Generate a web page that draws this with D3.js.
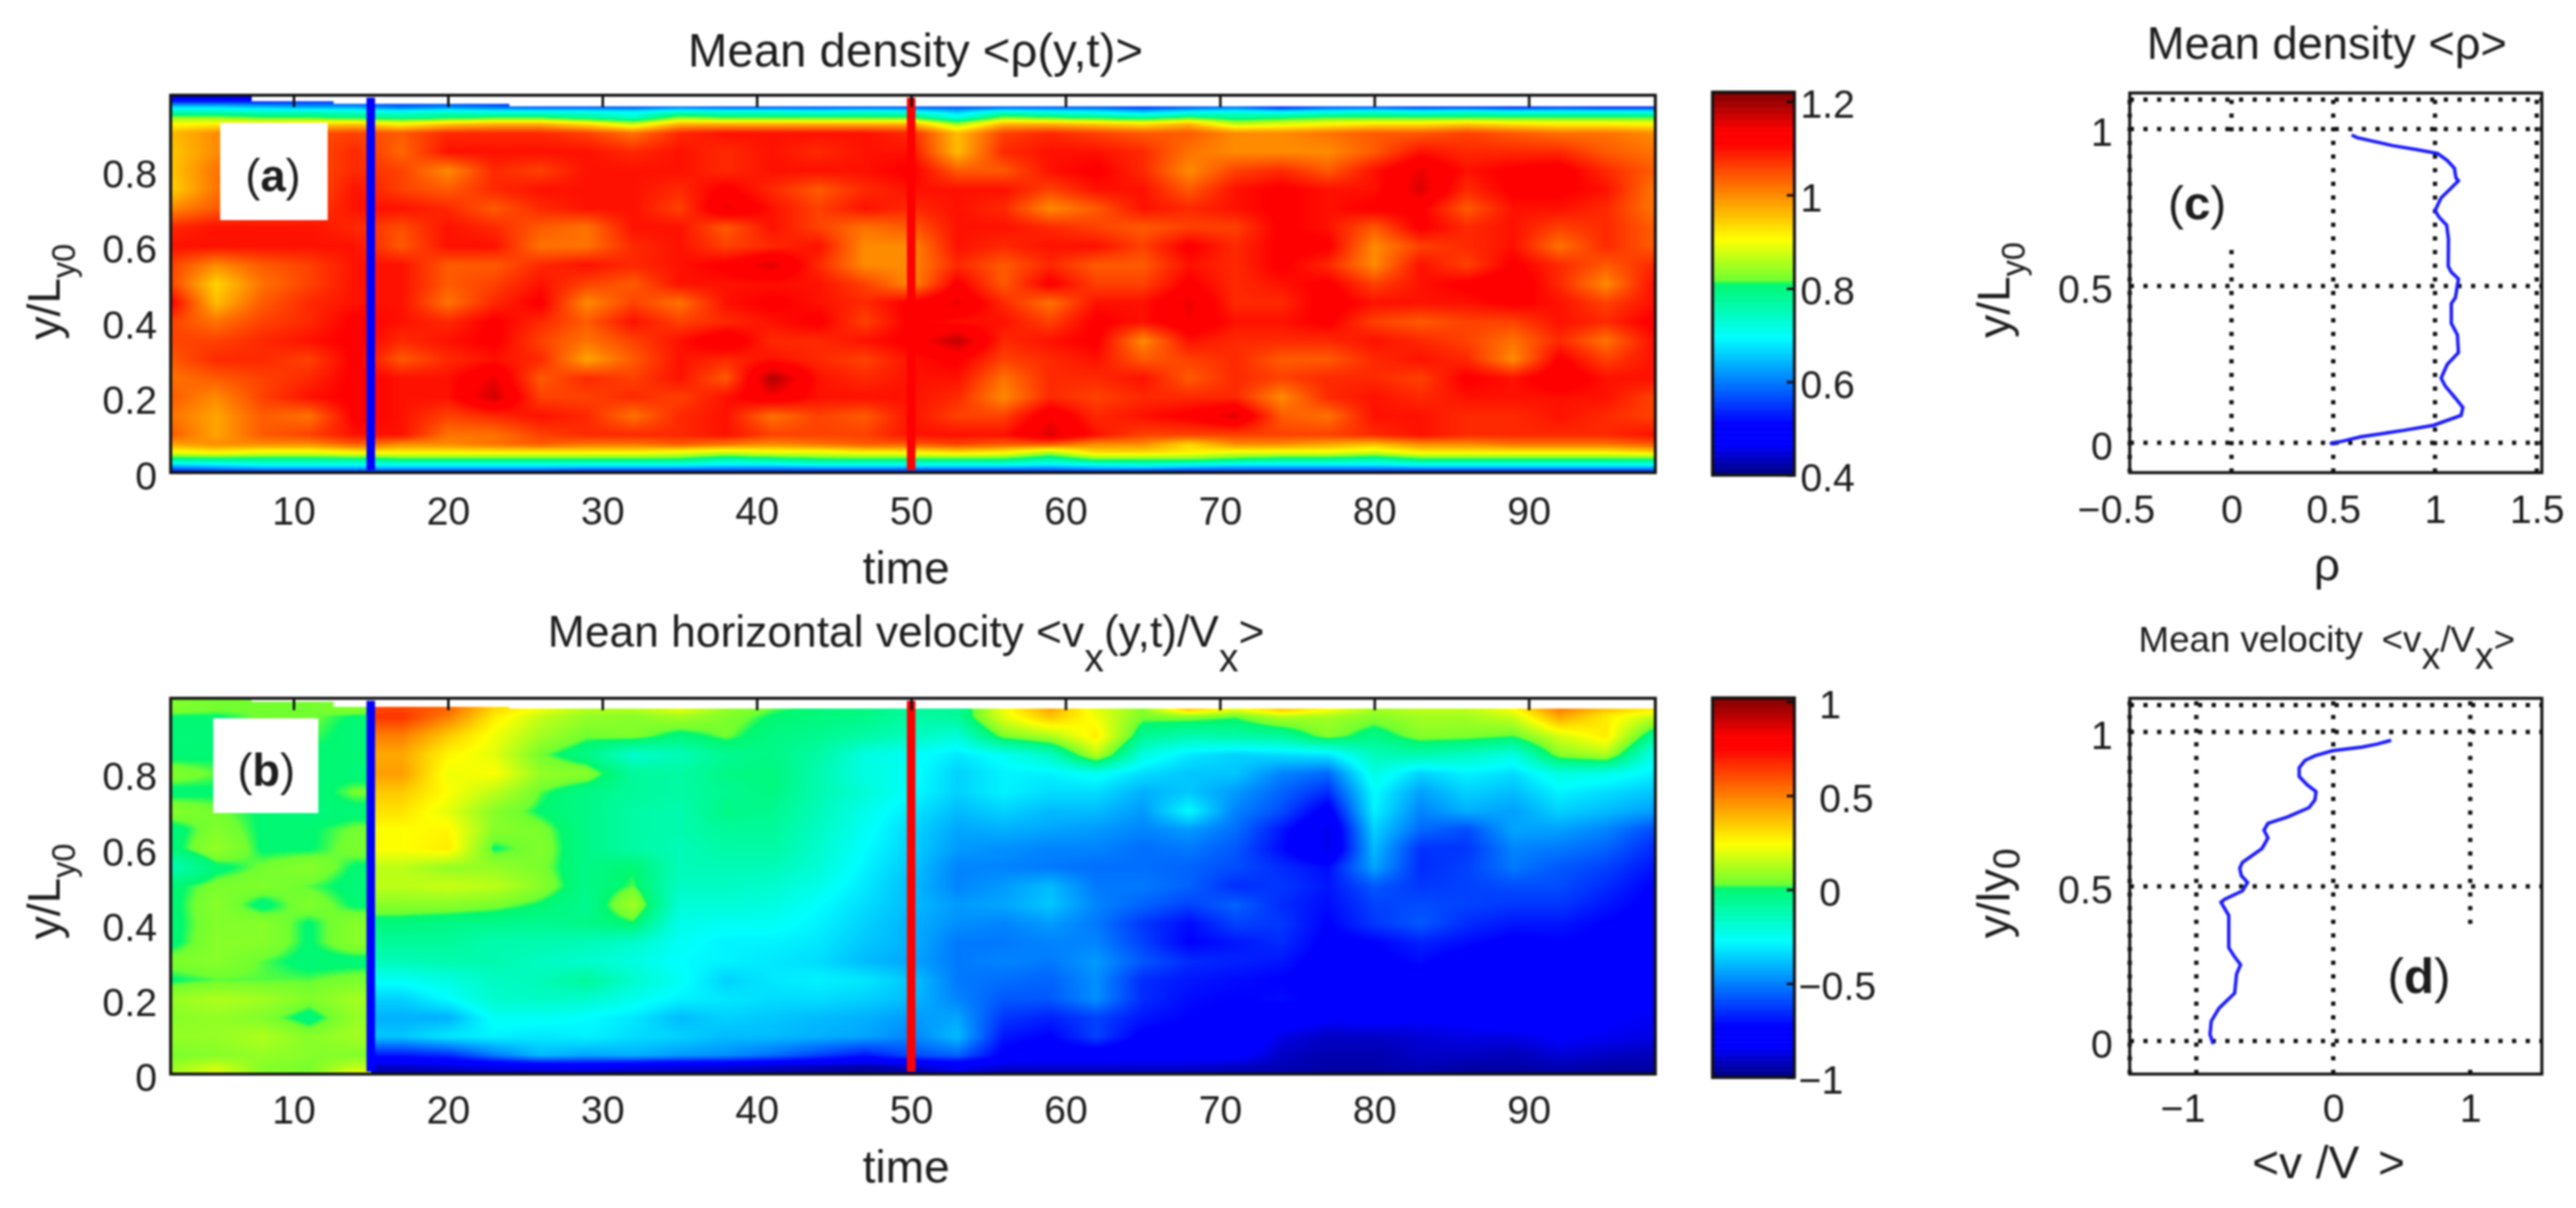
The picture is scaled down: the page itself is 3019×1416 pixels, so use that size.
<!DOCTYPE html>
<html>
<head>
<meta charset="utf-8">
<script src="https://cdn.jsdelivr.net/npm/d3@7"></script>
<style>
  html, body { margin: 0; background: #fff; }
  svg { display: block; filter: blur(0.8px); }
  text { font-family: "Liberation Sans", Arial, sans-serif; fill: #1c1c1c; }
</style>
</head>
<body>
<script>
// time columns of the two heat maps (read every 3 time units)
var timeCols = [2,5,8,11,14, 17,20,23,26,29,32,35,38,41,44,47,50, 53,56,59,62,65,68,71,74,77,80,83,86,89,92,95,98];

// panel (a): y levels top to bottom, then density x100 for each level
var rhoLevels = [1,.985,.97,.955,.94,.925,.9,.85,.8,.75,.7,.65,.6,.55,.5,.45,.4,.35,.3,.25,.2,.15,.1,.075,.055,.035,.02,.01,0];
var rhoRows = [
[48,48,48,52,52, 52,52,52,52,52,52,52,52,52,52,52,52, 52,52,52,52,52,52,52,52,52,52,52,52,52,52,52,52],
[52,52,52,54,54, 56,56,54,52,52,52,52,52,52,52,52,52, 52,52,52,52,52,52,52,52,52,52,52,52,52,52,52,52],
[66,66,64,62,62, 58,60,58,56,56,56,58,56,56,56,56,56, 56,56,56,56,54,56,58,52,56,56,54,54,52,54,52,52],
[76,76,75,75,74, 72,74,72,72,72,70,75,74,74,72,74,72, 66,74,72,70,66,70,72,70,72,74,72,74,72,72,72,72],
[84,84,82,82,80, 78,80,82,82,78,74,84,82,82,82,82,82, 72,84,82,80,78,82,78,80,82,82,82,82,82,82,82,82],
[90,91,92,93,94, 90,94,96,96,92,86,96,96,96,96,96,96, 84,96,96,94,92,96,86,88,90,92,92,94,92,91,91,90],
[96,100,105,105,106, 104,108,108,108,106,102,108,110,110,110,110,108, 96,106,108,106,104,104,100,100,102,104,104,106,104,102,102,100],
[95,100,105,105,108, 103,110,110,110,110,108,110,108,110,108,110,110, 96,108,110,110,108,102,100,100,100,104,110,108,108,108,104,102],
[95,102,105,105,108, 106,100,108,106,110,110,110,108,110,110,110,112, 104,104,110,112,108,100,106,108,104,110,115,110,112,113,108,104],
[94,102,104,104,110, 106,104,108,110,110,110,108,112,108,104,108,110, 110,110,106,110,110,104,110,112,110,110,116,108,112,112,110,102],
[100,104,105,106,110, 110,108,104,108,110,110,106,115,110,106,110,108, 110,108,100,104,110,108,110,112,110,112,112,104,110,110,108,102],
[108,110,110,110,108, 105,110,108,104,102,110,110,104,110,106,102,104, 110,110,108,106,104,106,106,112,110,104,112,108,110,106,108,104],
[110,110,110,110,110, 104,110,110,102,102,108,110,106,108,110,100,100, 110,108,110,110,106,112,108,112,112,100,106,108,110,102,108,104],
[106,100,104,106,110, 110,104,104,108,110,108,110,112,116,108,100,100, 108,104,108,104,104,110,108,112,108,100,110,106,112,108,104,108],
[106,94,102,106,110, 110,104,106,110,106,104,110,110,110,110,106,100, 112,104,112,106,106,112,108,110,112,106,110,112,114,108,100,110],
[112,96,104,108,110, 110,102,108,112,100,106,102,110,112,110,108,112, 115,108,102,110,110,115,108,108,113,110,110,110,112,110,106,110],
[106,102,106,108,112, 110,108,112,108,104,110,106,108,110,112,106,112, 110,110,106,112,110,114,110,110,112,106,104,106,106,110,108,112],
[106,106,108,110,112, 108,110,112,106,102,106,110,114,108,108,110,112, 118,108,110,112,100,110,108,108,108,110,108,106,102,108,102,110],
[104,108,108,106,112, 104,108,110,108,98,104,110,108,110,108,106,110, 112,106,108,110,104,106,108,104,104,108,110,108,100,112,106,110],
[102,104,106,108,112, 110,110,115,104,108,106,110,104,119,110,108,110, 110,102,108,108,110,104,108,106,108,108,106,112,110,114,110,110],
[104,100,106,110,112, 110,110,117,106,106,108,106,110,114,110,110,110, 108,100,108,106,108,108,108,100,108,110,108,110,110,110,110,106],
[102,98,104,102,112, 110,106,108,110,108,102,108,110,102,106,104,110, 106,106,114,108,110,112,116,104,102,110,110,108,108,110,108,106],
[104,98,104,106,110, 110,102,102,106,108,108,108,110,106,106,106,110, 110,110,116,110,106,106,106,106,106,108,110,108,108,108,108,110],
[98,100,100,100,104, 100,100,102,104,102,102,104,102,100,102,104,104, 106,104,104,100,100,94,100,100,98,96,100,100,102,102,102,104],
[90,92,90,90,92, 92,92,92,92,92,92,90,88,90,90,92,92, 94,92,86,94,94,92,90,90,90,88,92,92,92,92,92,94],
[78,78,78,78,78, 80,80,80,80,80,80,80,76,78,80,80,80, 80,80,76,82,82,82,80,78,78,76,80,80,80,80,80,80],
[66,68,70,70,70, 70,70,70,70,70,70,70,68,68,70,70,70, 70,70,68,70,72,70,68,68,68,68,70,70,70,70,70,70],
[58,60,62,62,62, 62,62,62,62,60,60,60,60,60,60,60,60, 60,60,60,62,62,60,60,60,60,60,60,60,60,60,60,60],
[50,52,52,52,52, 52,52,52,52,52,52,52,52,52,52,52,52, 52,52,52,52,52,52,52,52,52,52,52,52,52,52,52,52]
];

// panel (b): y levels top to bottom, then velocity x100 for each level
var velLevels = [1,.97,.95,.9,.85,.8,.75,.7,.65,.6,.55,.5,.45,.4,.35,.3,.25,.2,.15,.1,.05,.02,0];
var velRows = [
[5,3,3,3,5, 62,55,32,22,12,12,20,8,2,-1,-3,-8, -8,22,42,20,6,36,20,36,24,10,14,14,24,50,36,28],
[5,3,3,3,5, 62,55,32,22,12,12,20,8,2,-1,-3,-8, -8,22,42,20,6,36,20,36,24,10,14,14,24,50,36,28],
[0,0,3,3,0, 65,50,28,15,8,6,10,5,0,-2,-4,-10, -8,20,36,22,4,5,2,12,10,6,10,10,16,42,28,15],
[-1,-1,2,2,-1, 50,35,22,10,3,5,-2,3,-3,-6,-10,-15, -20,5,12,28,-6,-12,-10,-8,6,-4,6,5,2,18,28,-6],
[-1,0,-2,0,0, 42,26,20,3,-4,-18,-14,-6,-4,-10,-22,-26, -32,-26,-16,14,-22,-32,-36,-34,-32,-14,-12,-16,-22,6,12,-24],
[5,2,0,0,-1, 44,22,24,8,6,-8,-10,-4,-2,-12,-22,-26, -36,-30,-30,-26,-34,-38,-38,-50,-55,-22,-36,-30,-34,-22,-24,-30],
[-1,0,0,-2,3, 35,24,14,2,-4,-8,-10,-6,-3,-12,-20,-28, -36,-30,-34,-34,-42,-38,-46,-56,-66,-28,-45,-36,-40,-30,-34,-38],
[6,3,0,-2,-1, 30,20,6,0,-4,-10,-12,-4,-6,-14,-24,-32, -40,-36,-40,-40,-46,-28,-50,-60,-78,-30,-50,-42,-45,-36,-40,-45],
[-2,5,0,0,3, 24,26,6,4,-4,-10,-12,-8,-8,-16,-26,-35, -44,-42,-44,-46,-50,-46,-54,-70,-88,-36,-55,-60,-44,-45,-50,-60],
[-2,8,0,0,4, 24,28,0,5,-4,-10,-14,-10,-10,-18,-28,-36, -46,-48,-50,-50,-54,-52,-58,-72,-88,-40,-65,-64,-50,-52,-56,-66],
[-14,-1,3,6,0, 14,8,8,4,-4,0,-14,-14,-14,-20,-30,-38, -50,-50,-52,-54,-54,-56,-60,-66,-72,-44,-66,-62,-52,-58,-62,-70],
[-1,4,5,2,-1, 14,16,14,6,-4,2,-16,-16,-18,-24,-32,-40, -50,-46,-40,-52,-52,-56,-66,-64,-70,-58,-64,-62,-60,-60,-66,-74],
[-1,6,-1,5,0, 6,6,4,0,-6,10,-20,-20,-22,-28,-34,-40, -46,-44,-38,-50,-56,-62,-56,-66,-72,-62,-60,-62,-64,-64,-70,-76],
[-1,5,6,0,6, -2,-4,-5,-6,-4,0,-24,-26,-26,-30,-36,-42, -48,-50,-46,-52,-64,-72,-62,-64,-74,-64,-58,-66,-70,-70,-74,-78],
[-1,6,6,0,6, -8,-8,-12,-12,-14,-18,-26,-30,-30,-32,-38,-42, -52,-52,-50,-50,-62,-74,-70,-66,-76,-74,-68,-72,-76,-74,-76,-80],
[4,6,2,-1,-1, -14,-12,-12,-16,-18,-22,-28,-30,-32,-34,-40,-44, -52,-50,-52,-46,-58,-66,-68,-70,-78,-76,-72,-78,-78,-76,-76,-80],
[0,2,2,2,4, -26,-22,-16,-14,-8,-18,-26,-36,-32,-30,-32,-38, -52,-54,-56,-48,-66,-70,-72,-74,-78,-76,-78,-76,-76,-78,-80,-82],
[8,12,10,5,10, -36,-28,-18,-16,-18,-24,-30,-32,-34,-34,-36,-40, -50,-58,-58,-48,-66,-72,-74,-72,-76,-78,-76,-78,-76,-76,-80,-84],
[6,8,5,-2,8, -42,-42,-26,-26,-28,-32,-40,-36,-38,-40,-42,-46, -44,-64,-68,-62,-70,-74,-76,-78,-84,-82,-84,-82,-78,-80,-84,-86],
[8,8,12,6,10, -38,-32,-30,-32,-30,-34,-36,-40,-40,-42,-44,-50, -40,-70,-74,-62,-76,-76,-74,-88,-92,-92,-90,-88,-88,-84,-86,-88],
[4,6,8,6,5, -70,-66,-52,-40,-44,-42,-46,-48,-54,-62,-70,-60, -56,-76,-80,-80,-82,-82,-82,-92,-95,-95,-92,-92,-94,-90,-92,-94],
[8,16,6,4,14, -92,-90,-86,-84,-82,-86,-88,-90,-92,-94,-96,-92, -84,-90,-90,-90,-90,-90,-92,-94,-96,-96,-94,-96,-96,-94,-96,-96],
[10,20,6,4,22, -96,-96,-96,-96,-96,-96,-96,-96,-96,-96,-98,-96, -92,-96,-96,-96,-96,-96,-96,-96,-98,-98,-96,-98,-98,-98,-98,-98]
];

// where the heat data stops at the top of each map (white strip above it)
var topStepTimes = [7.3, 12.6, 24, 99];
var rhoTopSteps = [.998, .985, .977, .97];
var velTopSteps = [.999, .99, .977, .972];

// vertical markers in both maps
var markerTimes = [15, 50];
var markerColors = ["#0000ff", "#ff0000"];

// panel (c) profile
var rhoProfile = [.59,.618,.79,.907,1.0125,1.06,1.095,1.103,1.115,1.07,1.03,1,1.02,1.057,1.066,1.065,1.08,1.115,1.1,1.08,1.08,1.11,1.115,1.06,1.03,1.05,1.098,1.137,1.128,.993,.848,.635,.55,.483];
var rhoProfileY = [.981,.9725,.9475,.935,.9225,.9,.875,.844,.835,.806,.781,.74,.719,.694,.65,.5625,.544,.5225,.4625,.444,.381,.344,.2875,.25,.206,.181,.144,.1125,.0875,.056,.04,.019,.006,-.003];

// panel (d) profile
var velProfile = [.423,.323,.209,-.006,-.134,-.206,-.249,-.249,-.191,-.126,-.134,-.177,-.334,-.477,-.506,-.477,-.52,-.663,-.683,-.671,-.626,-.663,-.791,-.82,-.763,-.763,-.72,-.677,-.706,-.72,-.834,-.891,-.9,-.877];
var velProfileY = [.973,.961,.951,.939,.923,.908,.884,.856,.829,.807,.78,.755,.725,.704,.682,.657,.623,.578,.559,.535,.513,.486,.459,.449,.406,.302,.272,.247,.217,.155,.106,.064,.021,-.01];

// ticks
var timeTicks = [10,20,30,40,50,60,70,80,90];
var mapYTicks = [0,.2,.4,.6,.8];
var rhoBarTicks = [.4,.6,.8,1,1.2];
var velBarTicks = [-1,-.5,0,.5,1];
var rhoXTicks = [-.5,0,.5,1,1.5];
var velXTicks = [-1,0,1];
var profYTicks = [0,.5,1];
var rhoGridY = [0,.5,1,1.094];
var velGridY = [0,.5,1,1.087];
var velGridX = [-1.486,-1,0,1];

var tickFormat = d3.format("~g");
var FONT = 46, LABEL = 54;

// colormap position -> colour, as it appears on the two colour bars
var mapStops = [0,.08,.134,.36,.5,.51,.617,.87,.9,1];
var mapColors = ["#000080","#0000ff","#0000ff","#00ffff","#00f870","#70ff30","#ffff00","#ff0000","#ff0000","#800000"];
var cmap = d3.scaleLinear().domain(mapStops).range(mapColors).clamp(true);

var svg = d3.select("body").append("svg").attr("width", 3019).attr("height", 1416);

function colorLookup(v0, v1) {
  var lut = d3.range(1024).map(function(i) { return d3.rgb(cmap(i / 1023)); });
  return function(v) {
    var i = Math.round((v - v0) / (v1 - v0) * 1023);
    return lut[Math.max(0, Math.min(1023, i))];
  };
}

// paint the value grid into a canvas, smoothing between the read grid nodes
function heatImage(rows, levels, tops, x, y, v0, v1, splitT) {
  var asc = levels.slice().reverse();
  var ascRows = rows.slice().reverse();
  var x0 = x.range()[0], x1 = x.range()[1], y0 = y.range()[1], y1 = y.range()[0];
  var w = x1 - x0, h = Math.round(y1 - y0);
  var canvas = document.createElement("canvas");
  canvas.width = w; canvas.height = h;
  var ctx = canvas.getContext("2d");
  var img = ctx.createImageData(w, h);
  var col = colorLookup(v0, v1);
  var splitIdx = splitT ? d3.bisectLeft(timeCols, splitT) : -1;

  for (var py = 0; py < h; py++) {
    var yv = y.invert(y0 + py + .5);
    var j = Math.max(1, Math.min(asc.length - 1, d3.bisectRight(asc, yv)));
    var fy = Math.max(0, Math.min(1, (yv - asc[j - 1]) / (asc[j] - asc[j - 1])));
    for (var px = 0; px < w; px++) {
      var t = x.invert(x0 + px + .5);
      var top = tops[Math.min(tops.length - 1, d3.bisectLeft(topStepTimes, t))];
      if (yv > top) continue;
      var i = Math.max(1, Math.min(timeCols.length - 1, d3.bisectRight(timeCols, t)));
      var fx = Math.max(0, Math.min(1, (t - timeCols[i - 1]) / (timeCols[i] - timeCols[i - 1])));
      // no blending across the marker where the map jumps
      if (i == splitIdx) fx = t < splitT ? 0 : 1;
      var a = ascRows[j - 1][i - 1] * (1 - fx) + ascRows[j - 1][i] * fx;
      var b = ascRows[j][i - 1] * (1 - fx) + ascRows[j][i] * fx;
      var c = col((a * (1 - fy) + b * fy) / 100);
      var k = (py * w + px) * 4;
      img.data[k] = c.r; img.data[k + 1] = c.g; img.data[k + 2] = c.b; img.data[k + 3] = 255;
    }
  }
  ctx.putImageData(img, 0, 0);
  return canvas.toDataURL();
}

function styleAxis(g, size) {
  g.select(".domain").remove();
  g.selectAll(".tick line").attr("stroke", "#111").attr("stroke-width", 3);
  g.selectAll(".tick text").attr("font-size", size).attr("font-family", null);
  g.attr("font-family", null);
}

function sideLabel(px, py, main, sub, lift) {
  var t = svg.append("text").attr("font-size", LABEL).attr("text-anchor", "middle")
    .attr("transform", "translate(" + px + "," + py + ") rotate(-90)");
  t.append("tspan").text(main);
  t.append("tspan").attr("font-size", 38).attr("dy", lift).text(sub);
}

function panelLabel(cx, cy, letter, size) {
  var t = svg.append("text").attr("x", cx).attr("y", cy).attr("text-anchor", "middle").attr("font-size", size);
  t.append("tspan").text("(");
  t.append("tspan").attr("font-weight", "bold").text(letter);
  t.append("tspan").text(")");
}

function whiteBox(x0, y0, x1, y1) {
  svg.append("rect").attr("x", x0).attr("y", y0).attr("width", x1 - x0).attr("height", y1 - y0).attr("fill", "#fff");
}

function drawMap(rows, levels, tops, yRange, labelY, timeLabelY, v0, v1, splitT) {
  var x = d3.scaleLinear().domain([2.04, 98.2]).range([200, 1940]);
  var y = d3.scaleLinear().domain([0, 1]).range(yRange);

  svg.append("image").attr("x", 200).attr("y", yRange[1]).attr("width", 1740)
    .attr("height", Math.round(yRange[0] - yRange[1]))
    .attr("preserveAspectRatio", "none")
    .attr("href", heatImage(rows, levels, tops, x, y, v0, v1, splitT));

  svg.selectAll(null).data(markerTimes).enter().append("line")
    .attr("x1", function(d) { return x(d); }).attr("x2", function(d) { return x(d); })
    .attr("y1", yRange[1] + 3).attr("y2", yRange[0] - 3)
    .attr("stroke", function(d, i) { return markerColors[i]; })
    .attr("stroke-width", 10);

  var top = svg.append("g").attr("transform", "translate(0," + yRange[1] + ")")
    .call(d3.axisTop(x).tickValues(timeTicks).tickSize(-14).tickFormat(""));
  styleAxis(top, FONT);

  var bottom = svg.append("g").attr("transform", "translate(0," + yRange[0] + ")")
    .call(d3.axisBottom(x).tickValues(timeTicks).tickSize(0).tickPadding(labelY).tickFormat(tickFormat));
  styleAxis(bottom, FONT);

  var left = svg.append("g").attr("transform", "translate(200,0)")
    .call(d3.axisLeft(y).tickValues(mapYTicks).tickSize(0).tickPadding(16).tickFormat(tickFormat));
  styleAxis(left, FONT);
  left.selectAll(".tick text").attr("dy", "0.42em");

  svg.append("rect").attr("x", 200).attr("y", yRange[1]).attr("width", 1740)
    .attr("height", yRange[0] - yRange[1]).attr("fill", "none").attr("stroke", "#111").attr("stroke-width", 3.5);

  svg.append("text").attr("x", 1062).attr("y", timeLabelY).attr("text-anchor", "middle")
    .attr("font-size", LABEL).text("time");
}

function drawBar(yRange, domain, ticks, labelX) {
  var y = d3.scaleLinear().domain(domain).range(yRange);
  var stripes = d3.range(256);
  var h = (yRange[0] - yRange[1]) / 256;
  svg.selectAll(null).data(stripes).enter().append("rect")
    .attr("x", 2007).attr("width", 96)
    .attr("y", function(d) { return yRange[0] - (d + 1) * h; })
    .attr("height", h + .6)
    .attr("fill", function(d) { return cmap(d / 255); });
  svg.append("rect").attr("x", 2007).attr("y", yRange[1]).attr("width", 96)
    .attr("height", yRange[0] - yRange[1]).attr("fill", "none").attr("stroke", "#111").attr("stroke-width", 3.5);
  var g = svg.append("g").attr("transform", "translate(2103,0)")
    .call(d3.axisRight(y).tickValues(ticks).tickSize(-9).tickPadding(labelX).tickFormat(tickFormat));
  styleAxis(g, FONT);
  g.selectAll(".tick text").attr("dy", "0.41em")
    .attr("dx", function(d) { return d < 0 ? -24 : 0; });
}

function drawProfile(xValues, yValues, domainX, domainY, yRange, gridX, gridY, xTicks, box, xPad) {
  var x = d3.scaleLinear().domain(domainX).range([2496, 2979]);
  var y = d3.scaleLinear().domain(domainY).range(yRange);
  var dots = "5 11";

  svg.selectAll(null).data(gridX).enter().append("line")
    .attr("x1", function(d) { return x(d); }).attr("x2", function(d) { return x(d); })
    .attr("y1", yRange[0]).attr("y2", yRange[1])
    .attr("stroke", "#111").attr("stroke-width", 5).attr("stroke-dasharray", dots);
  whiteBox(box[0], box[1], box[2], box[3]);
  svg.selectAll(null).data(gridY).enter().append("line")
    .attr("x1", 2496).attr("x2", 2979)
    .attr("y1", function(d) { return y(d); }).attr("y2", function(d) { return y(d); })
    .attr("stroke", "#111").attr("stroke-width", 5).attr("stroke-dasharray", dots);

  var points = d3.range(xValues.length);
  var line = d3.line()
    .x(function(i) { return x(xValues[i]); })
    .y(function(i) { return y(yValues[i]); });
  svg.append("path").attr("d", line(points)).attr("fill", "none")
    .attr("stroke", "#1a1aff").attr("stroke-width", 4);

  svg.append("rect").attr("x", 2496).attr("y", yRange[1]).attr("width", 483)
    .attr("height", yRange[0] - yRange[1]).attr("fill", "none").attr("stroke", "#111").attr("stroke-width", 3.5);

  var bottom = svg.append("g").attr("transform", "translate(0," + yRange[0] + ")")
    .call(d3.axisBottom(x).tickValues(xTicks).tickSize(0).tickPadding(xPad).tickFormat(tickFormat));
  styleAxis(bottom, 46);
  bottom.selectAll(".tick text").attr("dx", function(d) { return d < 0 ? -16 : 0; });

  var left = svg.append("g").attr("transform", "translate(2496,0)")
    .call(d3.axisLeft(y).tickValues(profYTicks).tickSize(0).tickPadding(20).tickFormat(tickFormat));
  styleAxis(left, 46);
  left.selectAll(".tick text").attr("dy", "0.42em");
}

// panels (a) and (b)
drawMap(rhoRows, rhoLevels, rhoTopSteps, [554, 111.6], 28, 684, .4, 1.22);
drawMap(velRows, velLevels, velTopSteps, [1259, 818.5], 25, 1386, -1.01, 1.02, 15);

whiteBox(258, 144, 384, 258);
panelLabel(320, 224, "a", 53);
whiteBox(250, 842, 373, 953);
panelLabel(312, 921, "b", 53);

// colour bars
drawBar([557, 108], [.4, 1.22], rhoBarTicks, 7);
drawBar([1263, 818], [-1.0, 1.02], velBarTicks, 29);

// panels (c) and (d)
drawProfile(rhoProfile, rhoProfileY, [-.5, 1.525], [-.095, 1.115], [554, 109],
  rhoXTicks, rhoGridY, rhoXTicks, [2535, 165, 2625, 288], 26);
drawProfile(velProfile, velProfileY, [-1.486, 1.523], [-.107, 1.109], [1259, 818.5],
  velGridX, velGridY, velXTicks, [2795, 1083, 2905, 1248], 23);
panelLabel(2575, 257, "c", 56);
panelLabel(2835, 1164, "d", 58);

// titles, with the sub-scripts of the original
svg.append("text").attr("x", 1073).attr("y", 78).attr("text-anchor", "middle").attr("font-size", 55.5).text("Mean density <ρ(y,t)>");
svg.append("text").attr("x", 2727).attr("y", 69).attr("text-anchor", "middle").attr("font-size", 53).text("Mean density <ρ>");

var t2 = svg.append("text").attr("x", 1062).attr("y", 758).attr("text-anchor", "middle").attr("font-size", 52);
t2.append("tspan").text("Mean horizontal velocity <v");
t2.append("tspan").attr("dy", 29).attr("font-size", 46).text("x");
t2.append("tspan").attr("dy", -29).text("(y,t)/V");
t2.append("tspan").attr("dy", 29).attr("font-size", 46).text("x");
t2.append("tspan").attr("dy", -29).text(">");

var t4 = svg.append("text").attr("x", 2727).attr("y", 764).attr("text-anchor", "middle").attr("font-size", 43);
t4.append("tspan").text("Mean velocity");
t4.append("tspan").attr("dx", 22).text("<v");
t4.append("tspan").attr("dy", 20).attr("font-size", 44).text("x");
t4.append("tspan").attr("dy", -20).text("/V");
t4.append("tspan").attr("dy", 20).attr("font-size", 44).text("x");
t4.append("tspan").attr("dy", -20).text(">");

// axis labels
sideLabel(70, 342, "y/L", "y0", 18);
sideLabel(70, 1045, "y/L", "y0", 18);
sideLabel(2355, 340, "y/L", "y0", 18);

var dLabel = svg.append("text").attr("font-size", LABEL).attr("text-anchor", "middle")
  .attr("transform", "translate(2355,1047) rotate(-90)");
dLabel.append("tspan").text("y/ly");
dLabel.append("tspan").attr("font-size", 44).attr("dy", 12).text("0");

svg.append("text").attr("x", 2727).attr("y", 680).attr("text-anchor", "middle").attr("font-size", LABEL).text("ρ");

var vLabel = svg.append("text").attr("x", 2729).attr("y", 1381).attr("text-anchor", "middle").attr("font-size", LABEL);
vLabel.append("tspan").text("<v");
vLabel.append("tspan").attr("dx", 16).text("/V");
vLabel.append("tspan").attr("dx", 22).text(">");
</script>
</body>
</html>
